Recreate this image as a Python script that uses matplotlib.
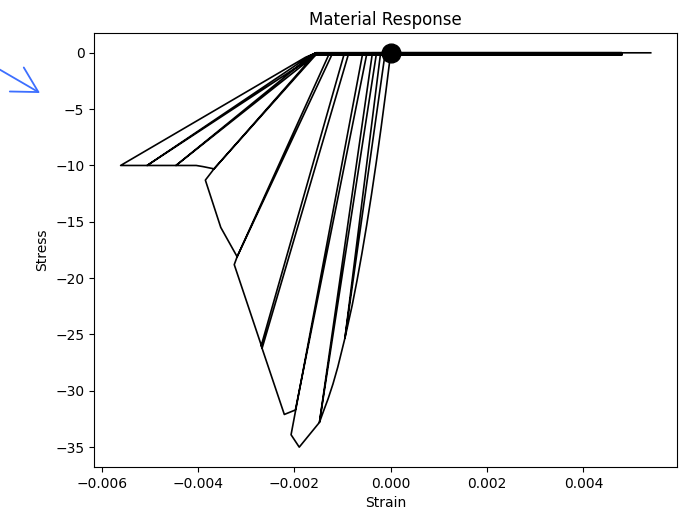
import matplotlib
matplotlib.use("Agg")
import matplotlib.pyplot as plt

# strain / stress path (cyclic compression, zero-stress tension excursions)
strain = [
    0.0, -0.0001, -0.0002, -0.0003, -0.0004, -0.0005, -0.0006, -0.0007, -0.0008, -0.00095,
    -0.00021, 0.0048, 0.0048, -0.00012, -0.00095,
    -0.0011, -0.0012, -0.0013, -0.0014, -0.00148,
    -0.00038, 0.0048, 0.0048, -0.0003, -0.00148,
    -0.0019, -0.00207,
    -0.00058, 0.0048, 0.0048, -0.0005, -0.00198, -0.00221,
    -0.00269,
    -0.00096, 0.0048, 0.0048, -0.00088, -0.00267,
    -0.00325, -0.00319,
    -0.00129, -0.00125, 0.0048, 0.0048, -0.00122, -0.00319,
    -0.00353, -0.00385, -0.00367,
    -0.0016, -0.00155, 0.0048, 0.0048, -0.00155, -0.00367, -0.0039, -0.00404,
    -0.00446,
    -0.00167, -0.00155, 0.0048, 0.0048, -0.00155, -0.00446,
    -0.00506,
    -0.00171, -0.00155, 0.0048, 0.0048, -0.00155, -0.00506,
    -0.00561,
    -0.00177, -0.00155, 0.0054,
]
stress = [
    0.0, -3.41, -6.65, -9.71, -12.6, -15.31, -17.85, -20.21, -22.4, -25.3,
    0.0, 0.0, -0.15, -0.15, -25.3,
    -27.9, -29.4, -30.7, -31.85, -32.8,
    0.0, 0.0, -0.15, -0.15, -32.8,
    -35.0, -33.9,
    0.0, 0.0, -0.15, -0.15, -31.7, -32.1,
    -26.0,
    0.0, 0.0, -0.15, -0.15, -26.2,
    -18.8, -18.1,
    -0.2, 0.0, 0.0, -0.15, -0.15, -18.1,
    -15.5, -11.3, -10.3,
    -0.25, 0.0, 0.0, -0.15, -0.15, -10.3, -10.1, -10.0,
    -10.0,
    -0.3, 0.0, 0.0, -0.15, -0.15, -10.0,
    -10.0,
    -0.35, 0.0, 0.0, -0.15, -0.15, -10.0,
    -10.0,
    -0.4, 0.0, 0.0,
]

fig = plt.figure(figsize=(6.82, 5.17), dpi=100)
ax = fig.add_axes([0.138, 0.097, 0.855, 0.839])

ax.plot(strain, stress, color="black", lw=1.2)
ax.plot(0, 0, "o", color="black", markersize=13.5)

ax.set_title("Material Response")
ax.set_xlabel("Strain")
ax.set_ylabel("Stress")

# blue pointer arrow at the top-left edge of the figure
ax.annotate("", xy=(40, 424), xycoords="figure pixels",
            xytext=(-15, 456), textcoords="figure pixels",
            annotation_clip=False,
            arrowprops=dict(arrowstyle="->,head_length=1.8,head_width=1.0",
                            color="#3d6fff", lw=1.3, shrinkA=0, shrinkB=0))

fig.savefig("out.png", dpi=100)
